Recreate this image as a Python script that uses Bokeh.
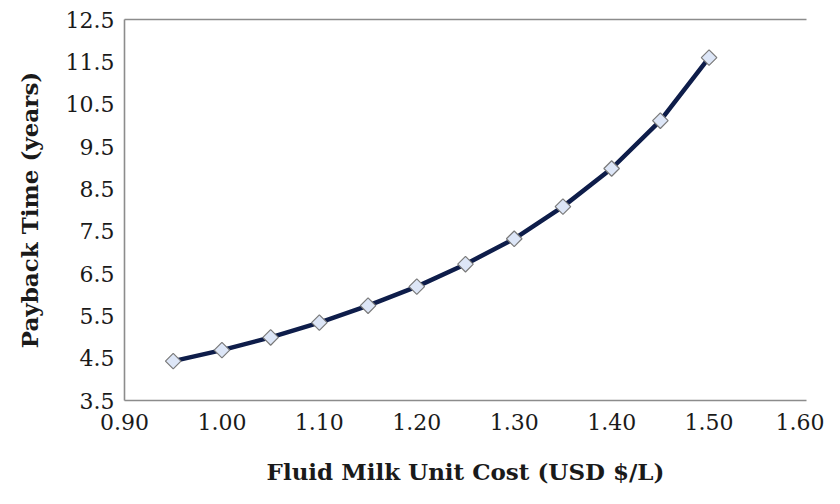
from bokeh.plotting import figure
from bokeh.models import ColumnDataSource, FixedTicker, NumeralTickFormatter, Range1d, LinearAxis
from bokeh.embed import file_html
from bokeh.resources import INLINE
import math

# Data
milk_cost = [0.95, 1.00, 1.05, 1.10, 1.15, 1.20, 1.25, 1.30, 1.35, 1.40, 1.45, 1.50]
payback_years = [4.43, 4.69, 4.99, 5.34, 5.74, 6.19, 6.72, 7.32, 8.08, 8.98, 10.11, 11.60]
x_ticks = [0.90, 1.00, 1.10, 1.20, 1.30, 1.40, 1.50, 1.60]
y_ticks = [3.5, 4.5, 5.5, 6.5, 7.5, 8.5, 9.5, 10.5, 11.5, 12.5]

FONT = "DejaVu Serif"
TXT = "#1a1a1a"
AX = "#8c8c8c"

src = ColumnDataSource(data=dict(x=milk_cost, y=payback_years))

p = figure(width=824, height=488, output_backend="svg", toolbar_location=None,
           x_range=Range1d(0.90, 1.60), y_range=Range1d(3.5, 12.5),
           min_border_left=124, min_border_right=18, min_border_top=19, min_border_bottom=88,
           background_fill_color="white", border_fill_color="white")
p.outline_line_color = None
p.xgrid.visible = False
p.ygrid.visible = False

p.line("x", "y", source=src, line_color="#0e1d4a", line_width=4.5)
p.scatter("x", "y", source=src, marker="square", angle=math.pi / 4, size=11,
          fill_color="#dde6f7", line_color="#7a7a7a", line_width=1.2)

for ax in (p.xaxis[0], p.yaxis[0]):
    ax.axis_line_color = AX
    ax.axis_line_width = 1.6
    ax.major_tick_line_color = None
    ax.minor_tick_line_color = None
    ax.major_tick_out = 0
    ax.major_tick_in = 0
    ax.major_label_text_font = FONT
    ax.major_label_text_font_size = "22px"
    ax.major_label_text_color = TXT
    ax.axis_label_text_font = FONT
    ax.axis_label_text_font_size = "23px"
    ax.axis_label_text_font_style = "bold"
    ax.axis_label_text_color = TXT

p.xaxis.ticker = FixedTicker(ticks=x_ticks)
p.xaxis.formatter = NumeralTickFormatter(format="0.00")
p.xaxis.axis_label = "Fluid Milk Unit Cost (USD $/L)"
p.xaxis.major_label_standoff = 13
p.xaxis.axis_label_standoff = 25

p.yaxis.ticker = FixedTicker(ticks=y_ticks)
p.yaxis.formatter = NumeralTickFormatter(format="0.0")
p.yaxis.axis_label = "Payback Time (years)"
p.yaxis.major_label_standoff = 10
p.yaxis.axis_label_standoff = 20

top = LinearAxis(ticker=FixedTicker(ticks=[]), axis_line_color=AX, axis_line_width=1.6,
                 major_tick_line_color=None, minor_tick_line_color=None,
                 major_label_text_font_size="0px", major_tick_out=0, major_tick_in=0)
p.add_layout(top, "above")

open("out.html", "w").write(file_html(p, INLINE))
